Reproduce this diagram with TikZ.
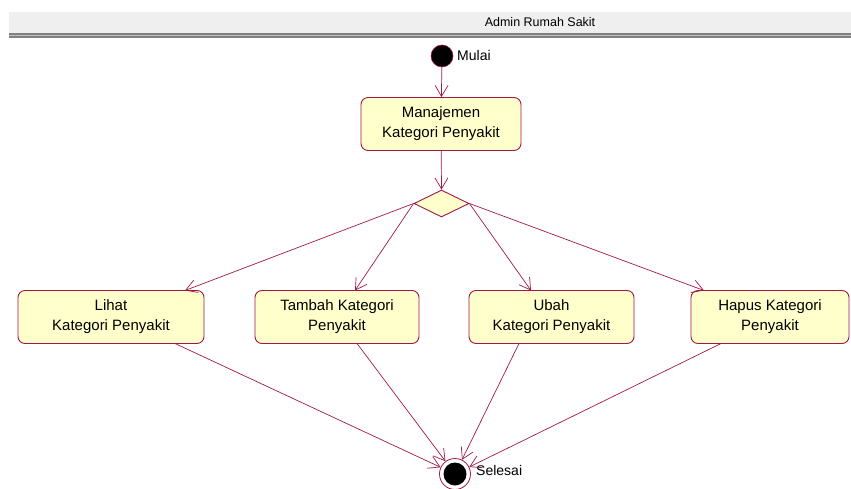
\documentclass[tikz,border=0pt]{standalone}
\usepackage{fontspec}
\setmainfont{Liberation Sans}
\usetikzlibrary{arrows.meta,shapes.geometric}
\definecolor{umlline}{RGB}{160,24,72}
\definecolor{umlfill}{RGB}{255,255,204}
\definecolor{bandgray}{RGB}{239,239,239}
\definecolor{bargray}{RGB}{128,128,128}
\tikzset{
  activity/.style={draw=umlline, fill=umlfill, rounded corners=7pt, line width=0.9pt,
    minimum height=53pt, align=center, font=\fontsize{15}{20}\selectfont, inner sep=2pt},
  flow/.style={draw=umlline, line width=0.7pt, -{Straight Barb[length=11pt,width=13pt,line width=0.7pt]}},
  decision/.style={diamond, draw=umlline, fill=umlfill, line width=0.9pt, minimum width=55pt,
    minimum height=27pt, inner sep=0pt, aspect=2},
  lbl/.style={font=\fontsize{14}{16}\selectfont, anchor=west, inner sep=0pt}
}
\begin{document}
\begin{tikzpicture}[x=1pt,y=-1pt]
  \useasboundingbox (0,0) rectangle (851,489);
  % swimlane header
  \fill[bandgray] (9,12) rectangle (851,33);
  \fill[bargray] (9,33) rectangle (851,38);
  \draw[white!75!black, line width=0.6pt] (9,35.5) -- (851,35.5);
  \node[font=\fontsize{12.5}{14}\selectfont] (lane) at (540,22) {Admin Rumah Sakit};

  % start and decision
  \node[circle, fill=black, draw=umlline, line width=0.6pt, minimum size=22pt, inner sep=0pt] (start) at (442,56) {};
  \node[lbl] (mulai) at (457,55) {Mulai};
  \node[activity, minimum width=160pt] (manage) at (441,124) {Manajemen\\Kategori Penyakit};
  \node[decision] (dec) at (441.5,203.5) {};

  % activities
  \node[activity, minimum width=186pt] (lihat) at (111,317) {Lihat\\Kategori Penyakit};
  \node[activity, minimum width=164pt] (tambah) at (337,317) {Tambah Kategori\\Penyakit};
  \node[activity, minimum width=165pt] (ubah) at (551.5,317) {Ubah\\Kategori Penyakit};
  \node[activity, minimum width=158pt] (hapus) at (770,317) {Hapus Kategori\\Penyakit};

  % end node
  \node[circle, fill=white, draw=umlline, line width=0.8pt, minimum size=31pt, inner sep=0pt] (stop) at (455,474) {};
  \fill[black] (stop.center) circle (11.5pt);
  \node[lbl] (selesai) at (476,470) {Selesai};

  % flows
  \draw[flow] (start) -- (manage);
  \draw[flow] (manage) -- (dec.north);
  \draw[flow] (dec.west) -- (185,290.5);
  \draw[flow] (dec.west) -- (355,290.5);
  \draw[flow] (dec.east) -- (531,290.5);
  \draw[flow] (dec.east) -- (704,290.5);
  \draw[flow] (175,343.5) -- (stop);
  \draw[flow] (357,343.5) -- (stop);
  \draw[flow] (519,343.5) -- (stop);
  \draw[flow] (721,343.5) -- (stop);
\end{tikzpicture}
\end{document}
